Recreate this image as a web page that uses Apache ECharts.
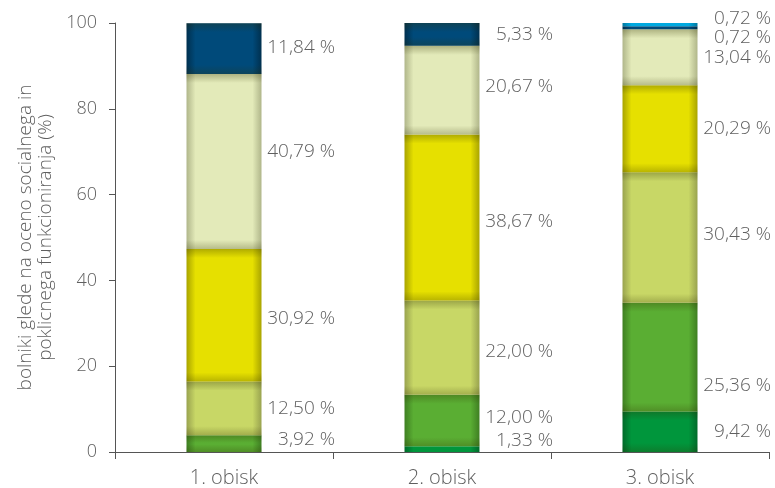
<!DOCTYPE html>
<html>
<head>
<meta charset="utf-8">
<script src="https://cdn.jsdelivr.net/npm/echarts@6/dist/echarts.min.js"></script>
<style>html,body{margin:0;padding:0;background:#fff}#c{width:775px;height:488px}</style>
</head>
<body>
<div id="c"></div>
<script>
const categories = ['1. obisk', '2. obisk', '3. obisk'];
const yTicks = [0, 20, 40, 60, 80, 100];
// stacked layers, bottom to top
const darkGreen = [null, 1.33, 9.42];
const green = [3.92, 12.00, 25.36];
const olive = [12.50, 22.00, 30.43];
const yellow = [30.92, 38.67, 20.29];
const pale = [40.79, 20.67, 13.04];
const darkBlue = [11.84, 5.33, 0.72];
const lightBlue = [null, null, 0.72];

const layers = [darkGreen, green, olive, yellow, pale, darkBlue, lightBlue];
const layerColors = ['#00963c', '#5aae33', '#c8d766', '#e6e000', '#e3eab9', '#004a7a', '#00a9e0'];
const edgeColors = ['#006a2a', '#3f7f22', '#99a34f', '#a9a400', '#b0b68a', '#00304f', '#0078a0'];
// label vertical nudges in pixels (layout only)
const labelNudge = [
  [0, -9, 0],
  [-4, -3, 28],
  [0, 4, -3],
  [3, 4, 0],
  [-10, -3.5, 0],
  [-1, 0, 9.5],
  [0, 0, -6.5]
];
const FONT = '"Open Sans", Roboto, sans-serif';

function fmt(v) { return v.toFixed(2).replace('.', ',') + ' %'; }

const series = layers.map((vals, li) => ({
  type: 'custom',
  name: 'L' + li,
  data: vals.map((v, ci) => [ci, v == null ? 0 : v, layers.slice(0, li).reduce((s, a) => s + (a[ci] || 0), 0)]),
  encode: { x: 0, y: [1, 2] },
  renderItem: function (params, api) {
    const ci = api.value(0);
    const v = api.value(1);
    const base = api.value(2);
    if (!v) return null;
    const p0 = api.coord([ci, base]);
    const p1 = api.coord([ci, base + v]);
    const band = api.size([1, 0])[0];
    const w = band * 0.344;
    const x = p0[0] - w / 2;
    const y = p1[1];
    const h = p0[1] - p1[1];
    const f = Math.min(0.45, 9 / Math.max(h, 1));
    const children = [
      {
        type: 'rect',
        shape: { x: x, y: y, width: w, height: h },
        style: {
          fill: {
            type: 'linear', x: 0, y: 0, x2: 1, y2: 0,
            colorStops: [
              { offset: 0, color: edgeColors[li] },
              { offset: 0.12, color: layerColors[li] },
              { offset: 0.88, color: layerColors[li] },
              { offset: 1, color: edgeColors[li] }
            ]
          }
        }
      }
    ];
    if (h > 6) {
      children.push({
        type: 'rect',
        shape: { x: x, y: y, width: w, height: h },
        style: {
          fill: {
            type: 'linear', x: 0, y: 0, x2: 0, y2: 1,
            colorStops: [
              { offset: 0, color: 'rgba(50,50,0,0.3)' },
              { offset: f, color: 'rgba(50,50,0,0)' },
              { offset: 1 - f, color: 'rgba(50,50,0,0)' },
              { offset: 1, color: 'rgba(50,50,0,0.25)' }
            ]
          }
        }
      });
    }
    children.push({
      type: 'text',
      style: {
        x: p0[0] + band / 2 + 2,
        y: (p0[1] + p1[1]) / 2 + labelNudge[li][ci],
        text: fmt(v),
        align: 'right',
        verticalAlign: 'middle',
        fill: '#5f5f5f',
        font: '300 19px ' + FONT
      }
    });
    return { type: 'group', children: children };
  }
}));

const chart = echarts.init(document.getElementById('c'), null, { renderer: 'canvas' });
chart.setOption({
  animation: false,
  grid: { left: 115, right: 6, top: 23, bottom: 34 },
  xAxis: {
    type: 'category',
    data: categories,
    boundaryGap: true,
    axisLine: { lineStyle: { color: '#555', width: 1 } },
    axisTick: { show: true, alignWithLabel: false, length: 7, lineStyle: { color: '#555' } },
    axisLabel: { color: '#5f5f5f', fontSize: 20, fontFamily: FONT, fontWeight: 300, margin: 16 }
  },
  yAxis: {
    type: 'value',
    min: yTicks[0],
    max: yTicks[yTicks.length - 1],
    interval: 20,
    name: 'bolniki glede na oceno socialnega in\npoklicnega funkcioniranja (%)',
    nameLocation: 'middle',
    nameRotate: 90,
    nameGap: 54,
    nameTextStyle: { color: '#5f5f5f', fontSize: 19, fontFamily: FONT, fontWeight: 300, lineHeight: 20 },
    axisLine: { show: true, lineStyle: { color: '#555', width: 1 } },
    axisTick: { show: true, length: 6, lineStyle: { color: '#555' } },
    splitLine: { show: false },
    axisLabel: { color: '#5f5f5f', fontSize: 18, fontFamily: FONT, fontWeight: 300, margin: 18 }
  },
  series: series
});
</script>
</body>
</html>
